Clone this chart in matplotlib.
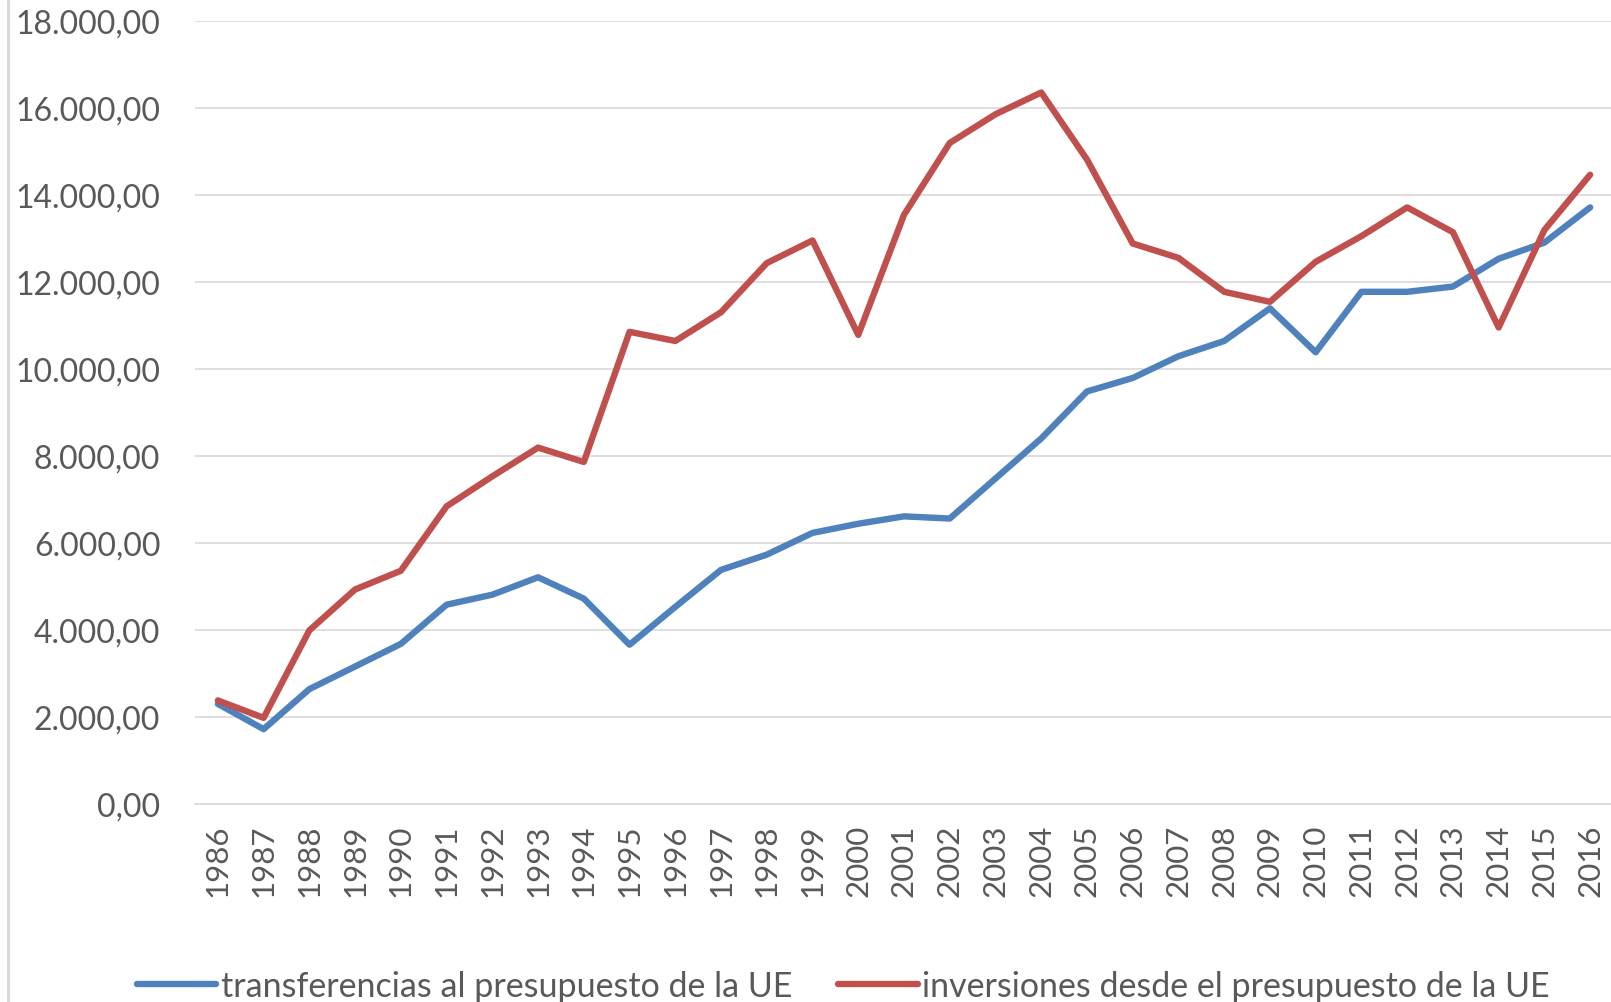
import matplotlib
matplotlib.use("Agg")
import matplotlib.pyplot as plt
from matplotlib.lines import Line2D
from matplotlib.ticker import FuncFormatter, MultipleLocator

years = list(range(1986, 2017))
transferencias = [2300, 1720, 2640, 3160, 3680, 4580, 4810, 5210, 4720, 3660,
                  4530, 5380, 5730, 6230, 6440, 6610, 6560, 7480, 8400, 9480,
                  9790, 10290, 10640, 11390, 10380, 11770, 11770, 11890, 12530, 12900, 13710]
inversiones = [2380, 1980, 3990, 4930, 5360, 6840, 7530, 8190, 7860, 10850,
               10640, 11300, 12430, 12950, 10780, 13540, 15190, 15850, 16350, 14810,
               12880, 12550, 11770, 11540, 12460, 13050, 13710, 13140, 10950, 13190, 14460]
labels = ["transferencias al presupuesto de la UE", "inversiones desde el presupuesto de la UE"]

plt.rcParams['font.family'] = ['Lato', 'DejaVu Sans']
txt = '#595959'
grid = '#D9D9D9'

fig = plt.figure(figsize=(16.11, 10.03), dpi=100)
ax = fig.add_axes([195/1611, 1-805/1003, (1613-195)/1611, (805-21.7)/1003])

x = list(range(len(years)))
l1, = ax.plot(x, transferencias, color='#4F81BD', lw=4.6, solid_capstyle='round', solid_joinstyle='round')
l2, = ax.plot(x, inversiones, color='#C0504D', lw=4.6, solid_capstyle='round', solid_joinstyle='round')

ax.set_xlim(-0.5, len(years) - 0.5)
ax.set_ylim(0, 18000)
ax.yaxis.set_major_locator(MultipleLocator(2000))
ax.yaxis.set_major_formatter(FuncFormatter(lambda v, p: f"{v:,.2f}".replace(",", "X").replace(".", ",").replace("X", ".")))
ax.set_xticks(x)
ax.set_xticklabels([str(y) for y in years], rotation=90)
ax.grid(axis='y', color=grid, lw=1.2)
ax.set_axisbelow(True)
for s in ['top', 'right', 'left']:
    ax.spines[s].set_visible(False)
ax.spines['bottom'].set_color(grid)
ax.spines['bottom'].set_linewidth(1.2)
ax.tick_params(axis='y', length=0, pad=25, labelsize=23, labelcolor=txt)
ax.tick_params(axis='x', length=0, pad=14, labelsize=22.5, labelcolor=txt)
ax.set_facecolor('white')

fig.add_artist(Line2D([8/1611, 8/1611], [0, 1], color=grid, lw=2.2, transform=fig.transFigure))

fig.legend([l1, l2], labels, loc='center', bbox_to_anchor=(843.5/1611, 1-987/1003),
           ncol=2, frameon=False, fontsize=24.5, labelcolor=txt, handlelength=2.33,
           handletextpad=0.135, columnspacing=1.35, borderpad=0, borderaxespad=0)

fig.savefig('out.png', dpi=100, facecolor='white')
